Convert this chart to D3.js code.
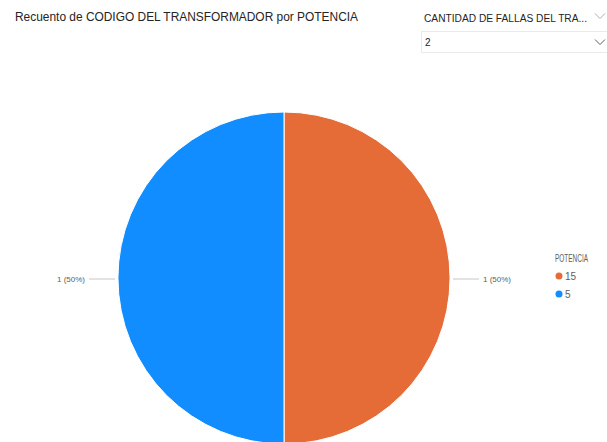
<!DOCTYPE html>
<html>
<head>
<meta charset="utf-8">
<script src="https://cdn.jsdelivr.net/npm/d3@7"></script>
<style>
  html, body { margin: 0; padding: 0; background: #ffffff; }
  svg { display: block; }
</style>
</head>
<body>
<svg id="chart" width="607" height="442"></svg>
<script>
// Count of transformer codes per power rating (filtered to 2 failures)
const categories = ["15", "5"];
const counts = [1, 1];
const colors = ["#E66C37", "#118DFF"];
const titleText = "Recuento de CODIGO DEL TRANSFORMADOR por POTENCIA";
const slicerHeader = "CANTIDAD DE FALLAS DEL TRA...";
const slicerValue = "2";
const legendTitle = "POTENCIA";

const W = 607, H = 442;
const svg = d3.select("#chart");
const font = "'Liberation Sans', Arial, sans-serif";

// Title
svg.append("text")
  .attr("x", 15).attr("y", 21)
  .attr("font-family", font).attr("font-size", 12)
  .attr("fill", "#252423")
  .attr("textLength", 343).attr("lengthAdjust", "spacingAndGlyphs")
  .text(titleText);

// Slicer header + dropdown
svg.append("text")
  .attr("x", 424).attr("y", 22)
  .attr("font-family", font).attr("font-size", 10)
  .attr("fill", "#252423")
  .attr("textLength", 163).attr("lengthAdjust", "spacingAndGlyphs")
  .text(slicerHeader);

const chevron = (cx, cy, col) => svg.append("path")
  .attr("d", `M${cx - 5},${cy - 2.5} L${cx},${cy + 2.5} L${cx + 5},${cy - 2.5}`)
  .attr("fill", "none").attr("stroke", col).attr("stroke-width", 1);
chevron(600, 16, "#b3b0ad");

svg.append("rect")
  .attr("x", 421.5).attr("y", 31.5).attr("width", 190).attr("height", 21)
  .attr("fill", "#ffffff").attr("stroke", "#eaeaea").attr("stroke-width", 1);
svg.append("text")
  .attr("x", 425).attr("y", 46)
  .attr("font-family", font).attr("font-size", 10)
  .attr("fill", "#252423")
  .text(slicerValue);
chevron(600, 42, "#605e5c");

// Pie
const cx = 284, cy = 278, R = 166;
const data = categories.map((c, i) => ({ cat: c, value: counts[i], color: colors[i] }));
const total = d3.sum(counts);
const pie = d3.pie().value(d => d.value).sort(null);
const arc = d3.arc().innerRadius(0).outerRadius(R);
const arcs = pie(data);

const g = svg.append("g").attr("transform", `translate(${cx},${cy})`);
g.selectAll("path.slice")
  .data(arcs)
  .join("path")
  .attr("class", "slice")
  .attr("d", arc)
  .attr("fill", d => d.data.color)
  .attr("stroke", "#ffffff")
  .attr("stroke-width", 1);

// Leader lines and data labels
const fmtPct = d3.format(".0%");
arcs.forEach(a => {
  const mid = (a.startAngle + a.endAngle) / 2;
  const side = Math.sin(mid) >= 0 ? 1 : -1;
  const y = -Math.cos(mid) * R;
  const x0 = side * (R + 3), x1 = side * (R + 29);
  g.append("line")
    .attr("x1", x0).attr("y1", y + 1).attr("x2", x1).attr("y2", y + 1)
    .attr("stroke", "#c8c6c4").attr("stroke-width", 1);
  g.append("text")
    .attr("x", side * (R + 33)).attr("y", y + 4)
    .attr("text-anchor", side > 0 ? "start" : "end")
    .attr("font-family", font).attr("font-size", 8)
    .attr("fill", "#605e5c")
    .text(`${a.data.value} (${fmtPct(a.data.value / total)})`);
});

// Legend
const lg = svg.append("g").attr("transform", "translate(555,0)");
lg.append("text")
  .attr("x", 0).attr("y", 262)
  .attr("font-family", font).attr("font-size", 10)
  .attr("fill", "#605e5c")
  .attr("textLength", 33).attr("lengthAdjust", "spacingAndGlyphs")
  .text(legendTitle);
lg.selectAll("g.item")
  .data(data)
  .join("g")
  .attr("class", "item")
  .attr("transform", (d, i) => `translate(0,${276 + i * 18})`)
  .each(function (d) {
    const s = d3.select(this);
    s.append("circle").attr("cx", 4).attr("cy", 0).attr("r", 3.5).attr("fill", d.color);
    s.append("text").attr("x", 10).attr("y", 3.5)
      .attr("font-family", font).attr("font-size", 10)
      .attr("fill", "#605e5c").text(d.cat);
  });
</script>
</body>
</html>
